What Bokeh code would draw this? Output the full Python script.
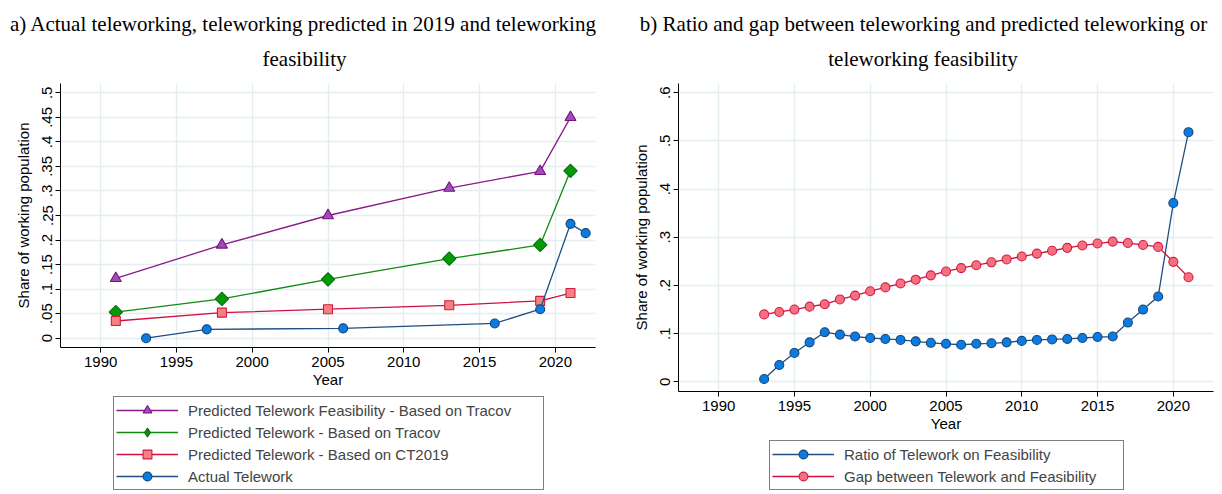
import math
from bokeh.plotting import figure
from bokeh.models import Range1d, FixedTicker, Legend, LegendItem, Label
from bokeh.embed import file_html
from bokeh.resources import INLINE

# ---------------- data ----------------
years_pred = [1991, 1998, 2005, 2013, 2019, 2021]
feasibility_tracov = [0.122, 0.190, 0.250, 0.306, 0.340, 0.450]
pred_tracov = [0.053, 0.080, 0.120, 0.162, 0.190, 0.341]
pred_ct2019 = [0.035, 0.052, 0.059, 0.067, 0.076, 0.092]
years_actual = [1993, 1997, 2006, 2016, 2019, 2021, 2022]
actual_telework = [0.000, 0.018, 0.020, 0.030, 0.059, 0.233, 0.214]

years_b = list(range(1993, 2022))
ratio_feas = [0.006, 0.035, 0.060, 0.082, 0.103, 0.098, 0.094, 0.091, 0.089, 0.087,
              0.084, 0.081, 0.079, 0.077, 0.079, 0.080, 0.082, 0.085, 0.087, 0.088,
              0.089, 0.091, 0.093, 0.094, 0.123, 0.150, 0.177, 0.371, 0.518]
gap_feas = [0.140, 0.145, 0.150, 0.156, 0.161, 0.171, 0.179, 0.188, 0.196, 0.204,
            0.212, 0.221, 0.229, 0.236, 0.242, 0.248, 0.254, 0.260, 0.266, 0.272,
            0.278, 0.283, 0.287, 0.291, 0.288, 0.284, 0.280, 0.249, 0.217]

x_ticks = [1990, 1995, 2000, 2005, 2010, 2015, 2020]
yticks_a = [0, 0.05, 0.1, 0.15, 0.2, 0.25, 0.3, 0.35, 0.4, 0.45, 0.5]
ylabels_a = ["0", ".05", ".1", ".15", ".2", ".25", ".3", ".35", ".4", ".45", ".5"]
yticks_b = [0, 0.1, 0.2, 0.3, 0.4, 0.5, 0.6]
ylabels_b = ["0", ".1", ".2", ".3", ".4", ".5", ".6"]

title_a = ["a) Actual teleworking, teleworking predicted in 2019 and teleworking", "feasibility"]
title_b = ["b) Ratio and gap between teleworking and predicted teleworking or", "teleworking feasibility"]

labels_a = ["Predicted Telework Feasibility - Based on Tracov",
            "Predicted Telework - Based on Tracov",
            "Predicted Telework - Based on CT2019",
            "Actual Telework"]
labels_b = ["Ratio of Telework on Feasibility", "Gap between Telework and Feasibility"]

SANS = "Liberation Sans"
SERIF = "Liberation Serif"
GRID = "#e4edf0"
FS = "15px"

# (line colour, fill colour, edge colour, marker, size, angle)
style_a = [
    ("#8a1a8a", "#9b50b6", "#7a0f80", "triangle", 11, 0.0),
    ("#128a12", "#049a04", "#0a7010", "square", 9.5, math.pi / 4),
    ("#d01040", "#f58080", "#d41a44", "square", 9, 0.0),
    ("#1f4f80", "#0b7be0", "#15467a", "circle", 9, 0.0),
]
# legend swatches (the legend ignores marker angle, so use a diamond there)
legend_style_a = [
    ("#8a1a8a", "#9b50b6", "#7a0f80", "triangle", 11, 0.0),
    ("#128a12", "#049a04", "#0a7010", "diamond", 12, 0.0),
    ("#d01040", "#f58080", "#d41a44", "square", 9, 0.0),
    ("#1f4f80", "#0b7be0", "#15467a", "circle", 9, 0.0),
]
data_a = [(years_pred, feasibility_tracov), (years_pred, pred_tracov),
          (years_pred, pred_ct2019), (years_actual, actual_telework)]
style_b = [
    ("#1f4f80", "#0b7be0", "#15467a", "circle", 9, 0.0),
    ("#d01040", "#f5707e", "#d41a44", "circle", 9, 0.0),
]
data_b = [(years_b, ratio_feas), (years_b, gap_feas)]


def add_series(p, data, styles):
    rs = []
    for (xs, ys), (lc, fc, ec, mk, sz, ang) in zip(data, styles):
        l = p.line(xs, ys, line_color=lc, line_width=1.3)
        s = p.scatter(xs, ys, marker=mk, size=sz, angle=ang, fill_color=fc,
                      line_color=ec, line_width=1.1)
        rs.append([l, s])
    return rs


def panel(width, height, bl, br, ymin, ymax, yticks, ylabels, left, top):
    p = figure(width=width, height=height, output_backend="svg", toolbar_location=None,
               x_range=Range1d(1987.35, 2022.65), y_range=Range1d(ymin, ymax),
               min_border_left=bl, min_border_right=br, min_border_top=13,
               min_border_bottom=48)
    p.styles = {"position": "absolute", "left": f"{left}px", "top": f"{top}px"}
    p.title.text = ""
    p.outline_line_color = None
    p.background_fill_color = "white"
    p.border_fill_alpha = 0
    p.xaxis.ticker = FixedTicker(ticks=x_ticks)
    p.yaxis.ticker = FixedTicker(ticks=yticks)
    p.yaxis.major_label_overrides = {t: l for t, l in zip(yticks, ylabels)}
    p.yaxis.major_label_orientation = "vertical"
    p.xaxis.axis_label = "Year"
    p.yaxis.axis_label = "Share of working population"
    for ax in [p.xaxis, p.yaxis]:
        ax.axis_line_color = "black"
        ax.axis_line_width = 1
        ax.major_tick_line_color = "black"
        ax.major_tick_out = 5
        ax.major_tick_in = 0
        ax.minor_tick_line_color = None
        ax.major_label_text_font = SANS
        ax.major_label_text_font_size = FS
        ax.major_label_text_color = "black"
        ax.axis_label_text_font = SANS
        ax.axis_label_text_font_size = FS
        ax.axis_label_text_font_style = "normal"
        ax.axis_label_text_color = "black"
    p.xaxis.major_label_standoff = 4
    p.xaxis.axis_label_standoff = 1
    p.yaxis.major_label_standoff = 3
    p.yaxis.axis_label_standoff = 8
    p.xgrid.ticker = FixedTicker(ticks=x_ticks)
    p.ygrid.ticker = FixedTicker(ticks=yticks)
    p.grid.grid_line_color = GRID
    p.grid.grid_line_width = 1.5
    return p


# ---------------- background canvas: titles + legends ----------------
bg = figure(width=1216, height=494, output_backend="svg", toolbar_location=None,
            x_range=Range1d(0, 1216), y_range=Range1d(494, 0),
            x_axis_type=None, y_axis_type=None, min_border=0)
bg.styles = {"position": "absolute", "left": "0px", "top": "0px"}
bg.title.text = ""
bg.outline_line_color = None
bg.background_fill_color = "white"
bg.border_fill_color = "white"
bg.grid.visible = False

for (txt, cx, base) in [(title_a[0], 303, 23), (title_a[1], 304, 58),
                        (title_b[0], 923, 23), (title_b[1], 922.5, 58)]:
    bg.add_layout(Label(x=cx, y=base, text=txt, text_align="center",
                        text_baseline="alphabetic", text_font=SERIF,
                        text_font_size="21px", text_color="black"))

# legend swatches use copies of the series, which lie outside this canvas' ranges
leg_rs_a = add_series(bg, data_a, legend_style_a)
leg_rs_b = add_series(bg, data_b, style_b)


def make_legend(labels, rs, loc, lw):
    items = [LegendItem(label=lab, renderers=r) for lab, r in zip(labels, rs)]
    return Legend(items=items, location=loc, orientation="vertical",
                  border_line_color="black", border_line_width=1,
                  label_text_font=SANS, label_text_font_size=FS,
                  glyph_width=62, glyph_height=22, label_height=22, label_standoff=10,
                  label_width=lw, spacing=0, padding=2, margin=0,
                  background_fill_color="white", background_fill_alpha=1)


bg.add_layout(make_legend(labels_a, leg_rs_a, (113, 4), 353))
bg.add_layout(make_legend(labels_b, leg_rs_b, (769, 4), 277))

# ---------------- panel a ----------------
pa = panel(605, 325, 60, 10, -0.019, 0.519, yticks_a, ylabels_a, 0, 70)
add_series(pa, data_a, style_a)

# ---------------- panel b ----------------
pb = panel(611, 369, 68, 8, -0.020, 0.619, yticks_b, ylabels_b, 610, 70)
add_series(pb, data_b, style_b)

open("out.html", "w").write(file_html([bg, pa, pb], INLINE))
